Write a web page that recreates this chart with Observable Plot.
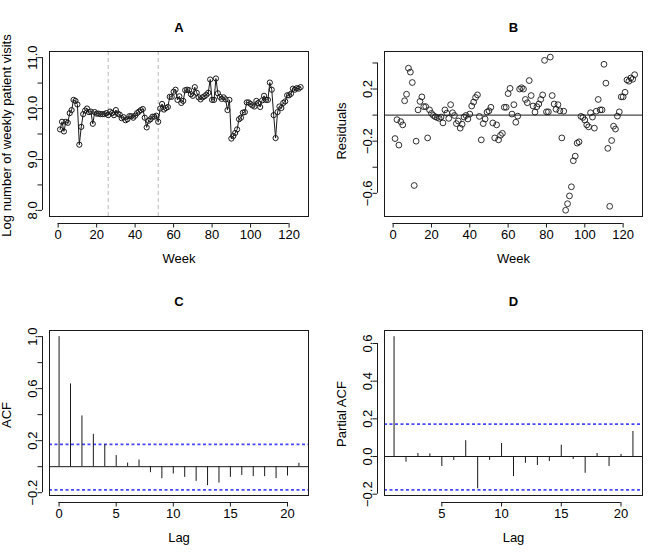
<!DOCTYPE html>
<html>
<head>
<meta charset="utf-8">
<script src="https://cdn.jsdelivr.net/npm/d3@7"></script>
<script src="https://cdn.jsdelivr.net/npm/@observablehq/plot@0.6"></script>
<style>
  body { margin: 0; background: #fff; }
  #fig { position: relative; width: 669px; height: 558px; background: #fff; }
  .panel { position: absolute; }
</style>
</head>
<body>
<div id="fig"></div>
<script>
// Weekly series: week index, log weekly visits, model residuals
const weeks = d3.range(1, 127);
const logVisits = [
  9.59, 9.74, 9.55, 9.74, 9.72, 9.91, 9.97, 10.17, 10.15, 10.08,
  9.29, 9.64, 9.89, 9.96, 10.00, 9.93, 9.94, 9.70, 9.93, 9.90,
  9.90, 9.89, 9.89, 9.89, 9.91, 9.87, 9.94, 9.91, 9.87, 9.97,
  9.90, 9.88, 9.81, 9.83, 9.77, 9.79, 9.85, 9.85, 9.82, 9.86,
  9.91, 9.94, 9.97, 9.99, 9.82, 9.63, 9.76, 9.79, 9.84, 9.84,
  9.86, 9.74, 10.00, 10.09, 9.98, 10.01, 10.03, 10.23, 10.23, 10.33,
  10.37, 10.17, 10.24, 10.11, 10.15, 10.36, 10.37, 10.36, 10.28, 10.25,
  10.42, 10.31, 10.22, 10.18, 10.22, 10.24, 10.27, 10.31, 10.57, 10.17,
  10.17, 10.59, 10.30, 10.23, 10.19, 10.22, 10.18, 9.97, 10.17, 9.41,
  9.46, 9.52, 9.59, 9.79, 9.82, 9.92, 9.93, 10.12, 10.12, 10.09,
  10.06, 10.04, 10.15, 10.11, 10.03, 10.16, 10.25, 10.17, 10.17, 10.51,
  10.37, 9.87, 9.42, 9.93, 10.04, 10.01, 10.11, 10.14, 10.26, 10.26,
  10.29, 10.39, 10.37, 10.40, 10.39, 10.42
];
const residuals = [
  -0.18, -0.035, -0.23, -0.05, -0.075, 0.11, 0.16, 0.36, 0.33, 0.25,
  -0.54, -0.20, 0.04, 0.105, 0.14, 0.065, 0.065, -0.175, 0.04, 0.013,
  -0.003, -0.013, -0.018, -0.025, -0.015, -0.06, 0.04, 0.015, -0.025, 0.08,
  0.018, -0.003, -0.065, -0.045, -0.10, -0.07, -0.015, -0.003, -0.03, 0.008,
  0.07, 0.10, 0.135, 0.155, -0.01, -0.19, -0.065, -0.03, 0.023, 0.033,
  0.06, -0.06, -0.175, -0.075, -0.19, -0.155, -0.14, 0.06, 0.06, 0.165,
  0.205, 0.008, 0.08, -0.055, -0.008, 0.20, 0.21, 0.20, 0.12, 0.095,
  0.265, 0.15, 0.07, 0.023, 0.065, 0.085, 0.12, 0.155, 0.42, 0.025,
  0.025, 0.445, 0.15, 0.085, 0.045, 0.08, 0.033, -0.175, 0.03, -0.73,
  -0.68, -0.62, -0.55, -0.35, -0.315, -0.215, -0.205, -0.01, -0.018, -0.038,
  -0.075, -0.09, 0.018, -0.015, -0.10, 0.03, 0.12, 0.04, 0.04, 0.39,
  0.245, -0.255, -0.70, -0.195, -0.085, -0.107, -0.008, 0.025, 0.14, 0.14,
  0.175, 0.27, 0.26, 0.285, 0.275, 0.31
];
// Interruption points (weeks)
const breakWeeks = [26, 52];

// Autocorrelation of residuals
const acfLags = d3.range(0, 22);
const acfValues = [1.0, 0.636, 0.39, 0.249, 0.169, 0.085, 0.028, 0.051, -0.046, -0.092,
  -0.056, -0.082, -0.113, -0.146, -0.126, -0.082, -0.067, -0.077, -0.077, -0.092, -0.072, 0.026];
const pacfLags = d3.range(1, 22);
const pacfValues = [0.636, -0.030, 0.016, 0.014, -0.053, -0.021, 0.084, -0.171, -0.021, 0.069,
  -0.107, -0.036, -0.048, -0.027, 0.060, -0.016, -0.089, 0.016, -0.053, 0.011, 0.133];
const ciBounds = [0.175, -0.175];

// Axis ticks
const weekTicks = [0, 20, 40, 60, 80, 100, 120];
const visitTicks = [8.0, 8.5, 9.0, 9.5, 10.0, 10.5, 11.0];
const visitLabels = [8.0, 9.0, 10.0, 11.0];
const residTicks = [-0.6, -0.4, -0.2, 0.0, 0.2, 0.4];
const residLabels = [-0.6, -0.2, 0.2];
const acfLagTicks = [0, 5, 10, 15, 20];
const acfTicks = [-0.2, 0.0, 0.2, 0.4, 0.6, 0.8, 1.0];
const acfLabels = [-0.2, 0.2, 0.6, 1.0];
const pacfLagTicks = [5, 10, 15, 20];
const pacfTicks = [-0.2, 0.0, 0.2, 0.4, 0.6];

const FONT = '"Liberation Sans", Arial, Helvetica, sans-serif';
const INK = "#1a1a1a";
const CI_BLUE = "#4848ff";
const FS = 13;
const fmt1 = d3.format(".1f");

// Base-graphics style axes: detached axis lines, outward ticks, rotated y labels
function baseAxes({xDom, yDom, xTicks, yTicks, yShown, title, titleDy, xTitle, yTitle, yTitleDy = 0}) {
  const yFmt = yShown ? (d => yShown.includes(d) ? fmt1(d) : "") : fmt1;
  return [
    Plot.ruleY([yDom[0]], {x1: xTicks[0], x2: xTicks[xTicks.length - 1], dy: 7, stroke: INK}),
    Plot.axisX({ticks: xTicks, tickSize: 4.5, tickPadding: 1.5, dy: 7, stroke: INK,
      fontSize: FS, label: null, tickFormat: d => String(d)}),
    Plot.ruleX([xDom[0]], {y1: yTicks[0], y2: yTicks[yTicks.length - 1], dx: -7, stroke: INK}),
    Plot.axisY({ticks: yTicks, tickSize: 4.5, tickPadding: 1.5, dx: -7, stroke: INK,
      tickRotate: -90, textAnchor: "middle", lineAnchor: "bottom",
      fontSize: FS, label: null, tickFormat: yFmt}),
    Plot.frame({stroke: INK}),
    Plot.text([title], {frameAnchor: "top", textAnchor: "middle", lineAnchor: "middle",
      dy: titleDy, fontWeight: "bold", fontSize: FS}),
    Plot.text([xTitle], {frameAnchor: "bottom", textAnchor: "middle", lineAnchor: "middle",
      dy: 42.6, fontSize: FS}),
    Plot.text([yTitle], {frameAnchor: "left", textAnchor: "middle", lineAnchor: "middle",
      rotate: -90, dx: -42.5, dy: yTitleDy, fontSize: FS})
  ];
}

// Confidence band limits for the correlograms
function ciLines() {
  return Plot.ruleY(ciBounds, {stroke: CI_BLUE, strokeWidth: 1.7, strokeDasharray: "3,2.5", dy: 0.5});
}

function mount(svg, left, top) {
  const div = document.createElement("div");
  div.className = "panel";
  div.style.left = left + "px";
  div.style.top = top + "px";
  div.appendChild(svg);
  document.getElementById("fig").appendChild(div);
}

const common = {
  height: 279, marginTop: 51, marginBottom: 63,
  style: {fontFamily: FONT, fontSize: FS + "px", background: "transparent", overflow: "visible", color: "#000"}
};

// A: log weekly visits
const seriesA = weeks.map((w, i) => ({week: w, value: logVisits[i]}));
const domA = {x: [-4.5, 130.1], y: [7.88, 11.12]};
mount(Plot.plot({
  ...common, width: 334, marginLeft: 49, marginRight: 26,
  x: {domain: domA.x}, y: {domain: domA.y},
  marks: [
    Plot.ruleX(breakWeeks, {stroke: "#b8b8b8", strokeDasharray: "4,3"}),
    Plot.line(seriesA, {x: "week", y: "value", stroke: INK, strokeWidth: 1}),
    Plot.dot(seriesA, {x: "week", y: "value", r: 2.6, stroke: INK, strokeWidth: 1, fill: "none"}),
    ...baseAxes({xDom: domA.x, yDom: domA.y, xTicks: weekTicks, yTicks: visitTicks, yShown: visitLabels,
      title: "A", titleDy: -24, xTitle: "Week", yTitle: "Log number of weekly patient visits", yTitleDy: 1.5})
  ]
}), 0, 0);

// B: residuals
const seriesB = weeks.map((w, i) => ({week: w, value: residuals[i]}));
const domB = {x: [-4.5, 130.1], y: [-0.778, 0.488]};
mount(Plot.plot({
  ...common, width: 335, marginLeft: 50, marginRight: 27,
  x: {domain: domB.x}, y: {domain: domB.y},
  marks: [
    Plot.ruleY([0], {stroke: INK}),
    Plot.dot(seriesB, {x: "week", y: "value", r: 2.9, stroke: INK, strokeWidth: 0.9, fill: "none"}),
    ...baseAxes({xDom: domB.x, yDom: domB.y, xTicks: weekTicks, yTicks: residTicks, yShown: residLabels,
      title: "B", titleDy: -24, xTitle: "Week", yTitle: "Residuals", yTitleDy: -3})
  ]
}), 334, 0);

// C: ACF
const seriesC = acfLags.map((lag, i) => ({lag, value: acfValues[i]}));
const domC = {x: [-0.84, 21.84], y: [-0.2216, 1.047]};
mount(Plot.plot({
  ...common, width: 334, marginLeft: 49, marginRight: 26,
  x: {domain: domC.x}, y: {domain: domC.y},
  marks: [
    Plot.ruleY([0], {stroke: INK}),
    ciLines(),
    Plot.ruleX(seriesC, {x: "lag", y1: 0, y2: "value", stroke: INK, strokeWidth: 1}),
    ...baseAxes({xDom: domC.x, yDom: domC.y, xTicks: acfLagTicks, yTicks: acfTicks, yShown: acfLabels,
      title: "C", titleDy: -29, xTitle: "Lag", yTitle: "ACF", yTitleDy: 2})
  ]
}), 0, 279);

// D: partial ACF
const seriesD = pacfLags.map((lag, i) => ({lag, value: pacfValues[i]}));
const domD = {x: [0.2, 21.8], y: [-0.207, 0.669]};
mount(Plot.plot({
  ...common, width: 335, marginLeft: 50, marginRight: 27,
  x: {domain: domD.x}, y: {domain: domD.y},
  marks: [
    Plot.ruleY([0], {stroke: INK}),
    ciLines(),
    Plot.ruleX(seriesD, {x: "lag", y1: 0, y2: "value", stroke: INK, strokeWidth: 1}),
    ...baseAxes({xDom: domD.x, yDom: domD.y, xTicks: pacfLagTicks, yTicks: pacfTicks, yShown: null,
      title: "D", titleDy: -29, xTitle: "Lag", yTitle: "Partial ACF", yTitleDy: 1})
  ]
}), 334, 279);
</script>
</body>
</html>
